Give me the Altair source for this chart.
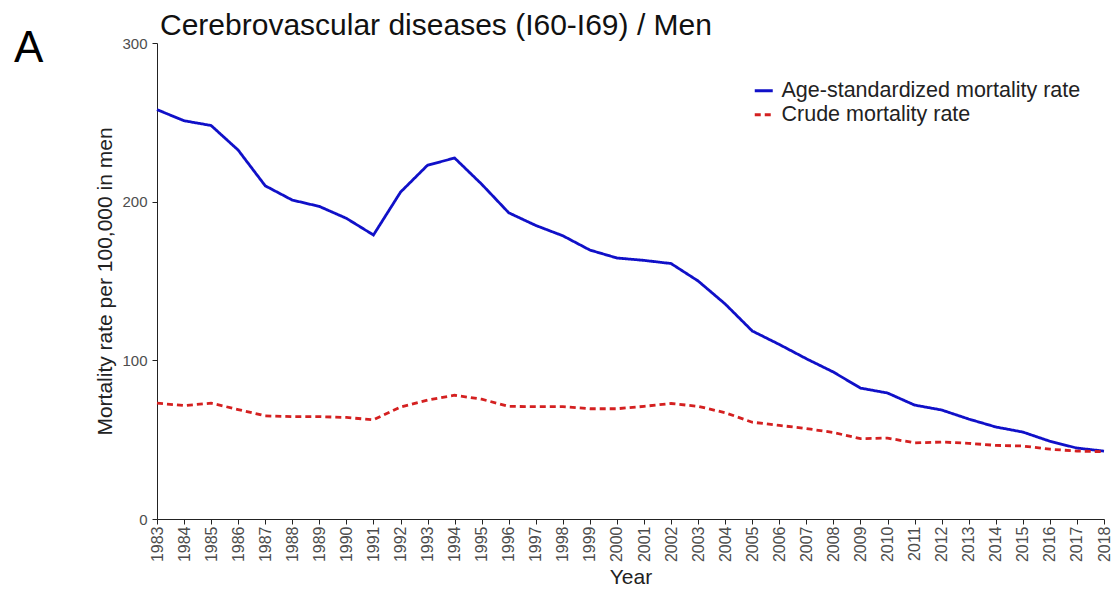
import altair as alt
import pandas as pd

years = list(range(1983, 2019))
age_std = [258, 251, 248, 232.5, 210, 201, 197, 189.5, 179, 206, 223, 227.5,
           211, 193, 185, 178.5, 169.5, 164.5, 163, 161, 150, 135.5, 118.5, 110,
           101, 92.6, 82.5, 79.4, 71.8, 68.7, 63, 58, 54.8, 49, 44.7, 42.8]
crude = [73, 71.5, 73, 69, 65, 64.5, 64.5, 64, 62.5, 70.6, 75, 78, 75.5,
         71, 70.8, 70.8, 69.5, 69.5, 71, 72.8, 71, 67, 61, 59, 57, 54.5,
         50.6, 51, 48, 48.5, 47.7, 46.4, 46, 44, 42.8, 42.4]
series_names = ["Age-standardized mortality rate", "Crude mortality rate"]

rows = []
for y, a, c in zip(years, age_std, crude):
    rows.append({"Year": y, "Series": series_names[0], "Value": a})
    rows.append({"Year": y, "Series": series_names[1], "Value": c})
df = pd.DataFrame(rows)

FONT = "Liberation Sans"

legend_cfg = dict(title=None, orient="none", legendX=596, legendY=37,
                  symbolType="stroke", symbolStrokeWidth=3, symbolSize=324,
                  labelFontSize=21.5, labelFont=FONT, labelColor="#222222",
                  rowPadding=1, labelOffset=7, labelLimit=400)

lines = alt.Chart(df).mark_line(strokeWidth=2.8).encode(
    x=alt.X("Year:Q",
            scale=alt.Scale(domain=[1983, 2018], nice=False, zero=False),
            axis=alt.Axis(values=years, format="d", labelAngle=270, title="Year",
                          labelFontSize=16, labelColor="#4d4d4d", labelFont=FONT,
                          titleFont=FONT, titleFontSize=21, titleFontWeight="normal",
                          titleColor="#222222", grid=False, domainColor="#222222",
                          tickColor="#222222", labelPadding=2, titlePadding=5,
                          labelBaseline="middle", labelAlign="right",
                          labelOverlap=False, labelFlush=False)),
    y=alt.Y("Value:Q",
            scale=alt.Scale(domain=[0, 300], nice=False),
            axis=alt.Axis(values=[0, 100, 200, 300], title="Mortality rate per 100,000 in men",
                          labelFontSize=15, labelColor="#4d4d4d", labelFont=FONT,
                          titleFont=FONT, titleFontSize=21, titleFontWeight="normal",
                          titleColor="#222222", grid=False, domainColor="#222222",
                          tickColor="#222222", labelPadding=5, titlePadding=6)),
    color=alt.Color("Series:N",
                    scale=alt.Scale(domain=series_names, range=["#1010c8", "#d42020"]),
                    legend=alt.Legend(**legend_cfg)),
    strokeDash=alt.StrokeDash("Series:N",
                              scale=alt.Scale(domain=series_names, range=[[1, 0], [6, 4]]),
                              legend=alt.Legend(**legend_cfg)),
)

label_a = alt.Chart(pd.DataFrame({"t": ["A"]})).mark_text(
    font=FONT, fontSize=44, align="left", baseline="alphabetic", color="#000000"
).encode(text="t:N", x=alt.value(-143), y=alt.value(19))

chart = alt.layer(lines, label_a).properties(
    width=947, height=476,
    padding={"left": 149, "top": 35, "right": 8, "bottom": 70},
    autosize=alt.AutoSizeParams(type="none"),
    title=alt.TitleParams("Cerebrovascular diseases (I60-I69) / Men", anchor="start",
                          frame="group",
                          font=FONT, fontSize=30, fontWeight="normal", color="#111111",
                          offset=10, dx=3, dy=24),
).configure_view(stroke=None)

chart.save("out.html", embed_options={"renderer": "svg", "actions": False})
